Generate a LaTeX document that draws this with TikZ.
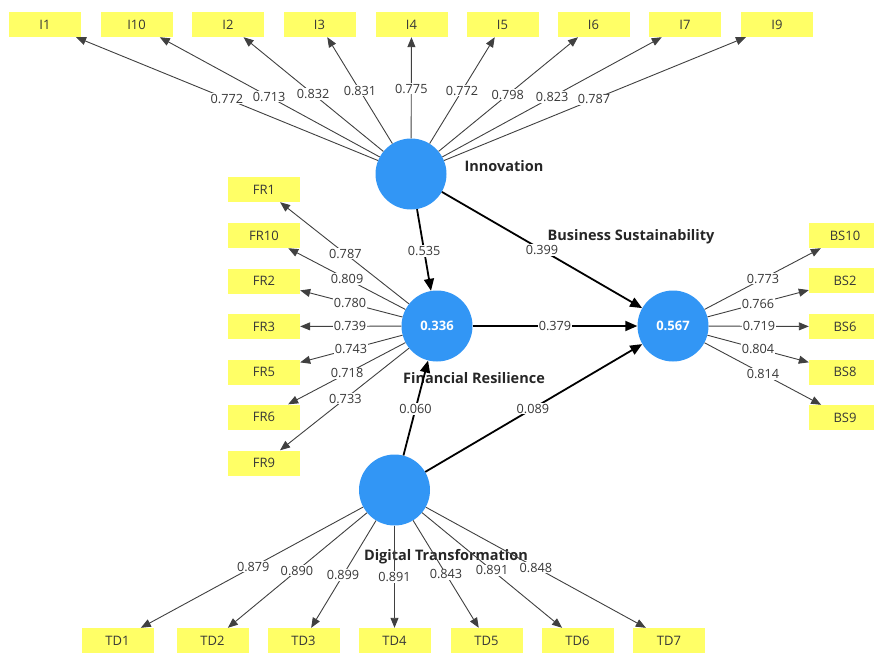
\documentclass[tikz,border=0pt]{standalone}
\usepackage{fontspec}
\setmainfont{Open Sans}
\usetikzlibrary{arrows.meta,calc}
\definecolor{lvblue}{RGB}{50,150,245}
\definecolor{indyel}{RGB}{255,255,102}
\definecolor{txtgray}{RGB}{55,55,55}
\tikzset{
  ind/.style={rectangle,fill=indyel,minimum width=72pt,minimum height=25pt,inner sep=0pt,font=\fontsize{13}{15}\selectfont,text=txtgray},
  lv/.style={circle,fill=lvblue,minimum size=71pt,inner sep=0pt,text=white,font=\fontsize{13}{15}\selectfont\bfseries},
  lvname/.style={font=\fontsize{14.5}{16}\selectfont\bfseries,text=black!85,inner sep=0pt},
  load/.style={draw=black!75,line width=0.9pt,-{Triangle[length=10pt,width=8pt]}},
  pth/.style={draw=black,line width=1.8pt,-{Triangle[length=12pt,width=10pt]}},
  wlab/.style={fill=white,inner sep=1pt,font=\fontsize{12.7}{14}\selectfont,text=txtgray}
}
\begin{document}
\begin{tikzpicture}[x=1pt,y=-1pt]
\useasboundingbox (0,0) rectangle (874,653);
% latent variables
\node[lv] (inn) at (411,174) {};
\node[lv] (fr) at (437,326) {0.336};
\node[lv] (bs) at (673,326) {0.567};
\node[lv] (dt) at (394.5,490) {};
% top indicators
\foreach \n/\x in {I1/45,I10/136.5,I2/228,I3/319.5,I4/411.5,I5/502.5,I6/593.5,I7/685,I9/777}
  \node[ind] (\n) at (\x,24.5) {\n};
% FR indicators
\foreach \n/\y in {FR1/189.5,FR10/235.5,FR2/281,FR3/326.5,FR5/372,FR6/417,FR9/463}
  \node[ind] (\n) at (264,\y) {\n};
% BS indicators
\foreach \n/\y in {BS10/235.5,BS2/280.5,BS6/326.5,BS8/372,BS9/417.5}
  \node[ind] (\n) at (845,\y) {\n};
% TD indicators
\foreach \n/\x in {TD1/117.5,TD2/212.5,TD3/303.5,TD4/394.5,TD5/486.5,TD6/577.5,TD7/669}
  \node[ind] (\n) at (\x,640.5) {\n};
% loadings
\foreach \n/\t/\v in {I1/0.503/0.772,I10/0.517/0.713,I2/0.535/0.832,I3/0.557/0.831,I4/0.57/0.775,I5/0.557/0.772,I6/0.53/0.798,I7/0.515/0.823,I9/0.5/0.787}{
  \draw[load] (inn) -- (\n);
  \node[wlab] at ($(inn.center)!\t!(\n.center)$) {\v};
}
\foreach \n/\t/\v in {FR1/0.53/0.787,FR10/0.52/0.809,FR2/0.503/0.780,FR3/0.503/0.739,FR5/0.497/0.743,FR6/0.52/0.718,FR9/0.53/0.733}{
  \draw[load] (fr) -- (\n);
  \node[wlab] at ($(fr.center)!\t!(\n.center)$) {\v};
}
\foreach \n/\t/\v in {BS10/0.523/0.773,BS2/0.494/0.766,BS6/0.5/0.719,BS8/0.494/0.804,BS9/0.523/0.814}{
  \draw[load] (bs) -- (\n);
  \node[wlab] at ($(bs.center)!\t!(\n.center)$) {\v};
}
% LV names
\node[lvname] (innname) at (504,166) {Innovation};
\node[lvname] (frname) at (474,378) {Financial Resilience};
\node[lvname] (bsname) at (631,237) {Business Sustainability};
\node[lvname] (dtname) at (446,557) {Digital Transformation};
\foreach \n/\t/\v in {TD1/0.51/0.879,TD2/0.536/0.890,TD3/0.566/0.899,TD4/0.578/0.891,TD5/0.56/0.843,TD6/0.533/0.891,TD7/0.515/0.848}{
  \draw[load] (dt) -- (\n);
  \node[wlab] at ($(dt.center)!\t!(\n.center)$) {\v};
}
% structural paths
\draw[pth] (inn) -- (fr);
\node[wlab] at ($(inn.center)!0.507!(fr.center)$) {0.535};
\draw[pth] (inn) -- (bs);
\node[wlab] at ($(inn.center)!0.5!(bs.center)$) {0.399};
\draw[pth] (fr) -- (bs);
\node[wlab] at ($(fr.center)!0.5!(bs.center)$) {0.379};
\draw[pth] (dt) -- (fr);
\node[wlab] at ($(dt.center)!0.494!(fr.center)$) {0.060};
\draw[pth] (dt) -- (bs);
\node[wlab] at ($(dt.center)!0.497!(bs.center)$) {0.089};
\end{tikzpicture}
\end{document}
